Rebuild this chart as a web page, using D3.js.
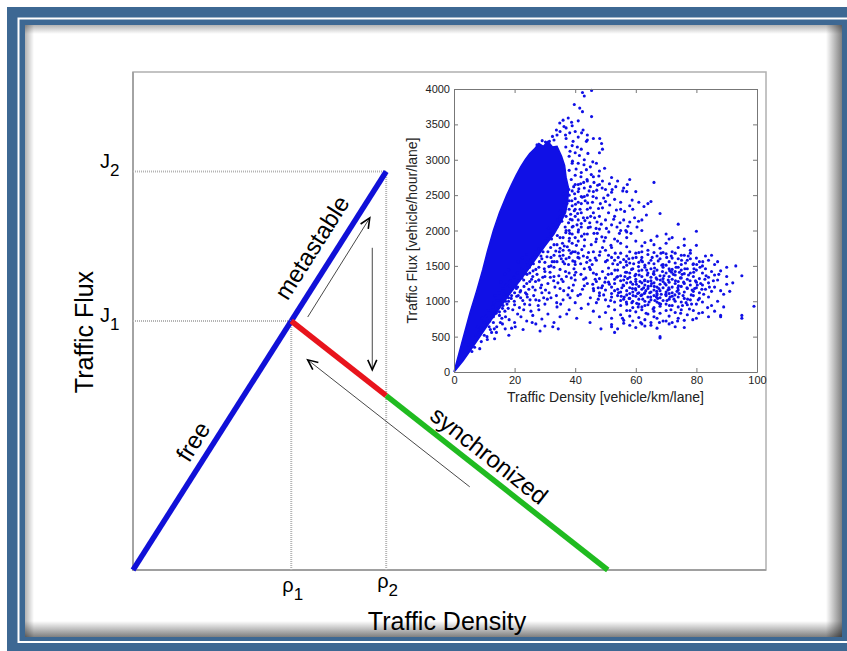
<!DOCTYPE html>
<html>
<head>
<meta charset="utf-8">
<script src="https://cdn.jsdelivr.net/npm/d3@7"></script>
<style>
body{margin:0;background:#fff;}
text{font-family:Arial,"Liberation Sans",Helvetica,sans-serif;}
</style>
</head>
<body>
<script>
const W=847, H=651;

// ---- schematic (abstract units) ----
const rho1=25, rho2=40, rhoJam=75, J1=50, J2=80, Jsync=35;
const freeBranch=[[0,0],[rho1,J1]];
const metaBranch=[[rho1,J1],[rho2,J2]];
const unstableBranch=[[rho1,J1],[rho2,Jsync]];
const syncBranch=[[rho2,Jsync],[rhoJam,0]];
const hysteresisArrows=[
  [[27.6,50.8],[37.4,70.7]],
  [[37.8,64.7],[37.8,40.2]],
  [[53.2,16.7],[27.6,42.2]]
];

// ---- inset: measured flux vs density ----
const xTicks=[0,20,40,60,80,100];
const yTicks=[0,500,1000,1500,2000,2500,3000,3500,4000];

// solid free-flow wedge outline [density, flux]
const coreHull=[[0,0],[2.5,400],[5.3,840],[7.5,1150],[9.5,1450],[11,1700],[13,2000],[15,2250],[17.4,2500],
 [19,2650],[20.5,2780],[22,2900],[23.5,3000],[25,3090],[26.5,3150],[28,3230],[29.5,3190],[31,3260],
 [32.5,3180],[34,3190],[35.5,3050],[36.5,2920],[37,2750],[37.8,2600],[37.5,2400],[36.8,2250],[35,2100],
 [33,1950],[30,1780],[27,1600],[24,1420],[21,1250],[18,1080],[15,900],[12,720],[9,530],[6,340],[3,160]];

const outlierPts=[[42.4,3950],[43,3900],[45.4,3980],[39.7,3780],[41.5,3730],[42.4,3680],[37.7,3590],[38.8,3530],
 [45.4,3610],[41,3550],[48.1,3300],[48.7,3230],[42.6,3420],[42.1,3380],[43.7,3260],[39.3,3260],[36.8,3350],
 [34.9,3520],[33.8,3420],[32.5,3330],[36.3,3470],[38.2,3380],[35,3400],[37,3450],[40,3400],[44,3350],[46,3300],
 [41,3320],[39,3480],[36,3560],[33,3280],[34,3350],[31.5,3260],[30.2,3250],[29.1,3270],[27.4,3210]];

const transitionPts=[[38,2850],[40,2780],[42,2820],[44,2700],[46,2760],[48,2650],[50,2580],[52,2540],[48,2840],
 [45,2620],[41,2650],[39,2560],[43,2480],[47,2460],[50,2410],[53,2440],[55,2300],[51,2250],[48,2200],[45,2320],
 [42,2380],[40,2300],[38,2420],[37,2200],[39,2150],[42,2100],[45,2050],[48,2020],[52,2080],[55,2000],[58,2120],
 [57,1900],[54,1850],[50,1900],[47,1880],[44,1950],[41,1980],[38,2000],[36,1900],[39,1820],[43,1780],[46,1700],
 [49,1760],[51,1650],[47,1580],[44,1620],[41,1680],[38,1720],[35,1750],[33,1650],[36,1560],[40,1520],[43,1460],
 [46,1400],[38,1400],[35,1450],[32,1500],[30,1420],[33,1350],[36,1280],[40,1300],[43,1220],[39,1150],[35,1180],
 [31,1250],[28,1300],[26,1200],[29,1120],[32,1050],[36,1020],[40,980],[42,900],[38,880],[34,920],[30,960],
 [27,1020],[24,1100],[22,1050],[25,950],[28,880],[31,820],[35,780],[33,700],[29,750],[26,800],[23,880],[20,950],
 [18,1000],[21,820],[24,720],[27,680],[30,650],[20,700],[17,780],[15,850],[16,680],[19,620],[13,700],[12,600],
 [14,560],[10,520],[8.5,330],[11,460],[9,430],
 [37,2650],[38,2500],[39,2350],[40,2450],[41,2550],[43,2600],[44,2500],[46,2550],[42,2250],[44,2180],[46,2250],
 [49,2320],[50,2150],[53,2200],[56,2150],[55,2400],[57,2550],[60,2550],[58,2350],[61,2400],[54,2700],[52,2750],
 [49,2700],[47,2950],[45,2900],[43,3000],[41,2950],[40,3100],[39,3200],[37,3300],[42,3150],[44,3280],[48,3100],
 [49,3150],[38,3050],[39,2950],[40,2650],[42,2480],
 [34,1800],[36,1720],[38,1850],[40,1900],[39,2050],[41,2150],[37,2000],[35,1900],[33,1800],[31,1700],[29,1600],
 [30,1550],[27,1450],[25,1400],[23,1300],[21,1200],[24,1250],[26,1350],[28,1480],[32,1620],[34,1560],[37,1600],
 [36,1650],[33,1480],[30,1350],[28,1300],[25,1280],[22,1150],[19,1080],[17,1000],[20,1120],[18,1050],[16,900],
 [14,850],[15,800],[13,780],[42,2050],[43,1950],[41,1850],[40,1700],[38,1620],[39,1950],[44,2300],[41,2400],
 [40,2200],[38,2300],[37,2450],[35,2200],[34,2050],[32,1950],[31,1880],[29,1800],[27,1700],[26,1620],[24,1550],
 [36.1,2520],[37.3,2380],[38.4,2160],[39.3,2060],[40.8,2240],[41.1,2010],[42.1,1920],[43.2,2140],[44.3,2040],
 [45.1,2200],[46.2,1960],[47.2,2120],[48.3,2380],[39.8,2520],[41.8,2660],[43.9,2720],[45.9,2480],[47.4,2640],
 [50.8,2500],[38.2,1960],[36.4,1780],[34.8,1700],[33.1,1560],[31.3,1490],[29.8,1460],[35.4,1600],[37.8,1520],
 [39.2,1700],[40.9,1620],[42.7,1640],[44.9,1580],[46.8,1840],[48.8,1910],[51.1,1980],[53.8,2050],[56.7,2000],
 [58.4,1960],[60.9,2130],[63.5,2220]];

// extra readings around the wedge edge and the transition zone
const fringePts=[[4.8,380],[6.2,430],[7.1,520],[8.3,560],[9.6,610],[7.7,640],[10.4,690],[11.8,720],[9.2,760],
 [12.6,790],[13.9,830],[11.3,870],[14.7,910],[16.2,940],[13.1,980],[17.5,960],[15.6,1010],[18.9,1040],[20.7,1070],
 [16.8,860],[19.4,880],[21.6,910],[23.3,960],[22.1,780],[18.2,740],[15.3,700],[14.1,640],[12.4,560],[10.9,500],
 [16.9,610],[20.2,640],[25.4,860],[27.8,940],[26.3,1080],[24.7,1170],[29.6,1050],[31.4,1120],[33.8,1080],
 [35.2,960],[37.6,1090],[39.4,1230],[41.7,1100],[44.3,960],[46.1,1150],[42.8,1310],[37.2,820],[40.5,760],
 [32.6,640],[28.4,580],[22.8,600],[6.8,350],[5.9,290],[13.4,470],[18.1,520],[25.8,700],[34.4,610],[44.9,700],
 [48.5,610],
 [13.6,1080],[14.9,1120],[16.1,1180],[17.3,1230],[18.6,1290],[19.8,1340],[15.4,1270],[16.8,1390],[18,1440],
 [20.9,1400],[22.3,1460],[21.4,1290],[23.7,1390],[24.9,1480],[26.1,1430],[27.4,1380],[25.6,1310],[23.1,1210],
 [21.8,1130],[24.2,1060],[26.8,1160],[28.9,1230],[30.2,1160],[29.3,1340],[31.7,1410],[32.9,1290],[34.6,1360],
 [33.3,1200],[36.8,1420],[38.7,1330],[35.5,1310],[37.9,1190],[40.2,1410],[41.9,1380],[43.5,1330],[44.7,1480],
 [39.6,1460],[42.4,1170],[45.8,1240],[47.6,1190],[20.4,1210],[19.1,1170],[17.6,1090],[22.7,1010],[25.1,1020],
 [28.1,1010],[30.8,1030],[33.9,980],[36.2,1150],[38.3,1050],[40.9,1080],
 [21.2,1560],[22.6,1610],[23.9,1660],[25.3,1590],[26.7,1660],[28.2,1560],[27.9,1740],[29.4,1700],[30.7,1630],
 [31.9,1760],[32.4,1560],[33.6,1710],[34.9,1640],[35.8,1820],[36.5,1530],[37.4,1770],[38.6,1680],[39.2,1570],
 [40.4,1790],[41.3,1610],[42.2,1730],[43.1,1870],[44.4,1690],[45.3,1800],[46.6,1610],[47.3,1960],[48.2,1700],
 [49.5,1850],[50.6,1580],[51.8,1790],[53.2,1680],[54.6,1960],[52.4,1530],[30.1,1850],[32.2,1880],[34.1,1930],
 [36.9,1970],[38.1,1890],[39.9,1560],[41.8,1530],[43.8,1550],[45.6,1520],[28.7,1640],[26.2,1530],[24.4,1510],
 [31.2,2030],[32.7,2080],[34.2,2150],[35.1,2280],[36.3,2360],[37.8,2110],[38.5,2230],[39.7,2280],[40.6,2080],
 [41.6,2300],[42.7,2180],[43.3,2420],[44.8,2110],[45.7,2400],[46.4,2180],[47.7,2310],[48.6,2090],[49.4,2460],
 [50.3,2030],[51.4,2360],[52.7,2160],[53.6,2290],[54.8,2110],[56.3,2270],[57.4,2060],[58.8,2430],[59.6,2180],
 [60.4,2050],[62.7,2340],[38.9,2420],[40.1,2370],[42.3,2470],[44.1,2390],[46.9,2030],[36.7,2050],[35.6,2130],
 [37.9,2580],[38.7,2720],[39.5,2620],[40.3,2870],[41.2,2590],[41.9,2760],[42.8,2680],[43.7,2860],[44.6,2560],
 [45.3,2790],[46.2,2680],[47.1,2570],[47.8,2770],[48.9,2600],[49.7,2880],[51.3,2660],[52.2,2580],[53.4,2620],
 [55.7,2560],[57.2,2650],[39.1,2980],[41.4,3060],[42.9,2930],[44.2,3090],[45.8,2970],[38.3,3120],[36.9,3180],
 [40.7,3180],
 [22.4,1330],[24.1,1380],[20.6,1180],[18.4,1220],[16.4,1100],[14.2,1010],[12.9,920],[10.7,790],[9.8,700],
 [8.8,620],[11.6,640],[13.3,610],[15.8,760],[17.9,900],[19.9,1000],[21.2,1080],[23.6,1120],[26.9,1280],
 [28.6,1190],[31.8,1340],[34.3,1260],[37.1,1350],[39.8,1370]];

const jamPts=[[52,1760],[55,1820],[58,1700],[60,1850],[62,1780],[64,1720],[66,1800],[68,1750],[70,1820],[72,1700],
 [74,1760],[76,1790],[78,1720],[61,1690],[57,1770],[65,1860],[71,1880],[69,1690],[63,1830],[75,1650],[80,1790],
 [53,1880],[50,1720],
 [48,1650],[50,1560],[52,1620],[54,1520],[55,1680],[56,1590],[57,1640],[58,1540],[59,1610],[60,1680],[61,1550],
 [62,1620],[63,1510],[64,1660],[65,1580],[66,1530],[67,1640],[68,1600],[69,1520],[70,1670],[71,1560],[72,1610],
 [73,1540],[74,1600],[75,1520],[76,1650],[77,1580],[78,1600],[79,1530],[80,1610],[81,1560],[82,1500],[84,1580],
 [86,1520],[83,1640],[53,1580],[57,1510],[62,1700],[66,1690],[70,1510],[73,1680],[78,1680],
 [45,1450],[47,1380],[49,1420],[50,1330],[51,1470],[52,1390],[53,1310],[54,1440],[55,1360],[56,1480],[56,1300],
 [57,1410],[58,1340],[59,1460],[60,1380],[60,1310],[61,1430],[62,1350],[63,1480],[63,1300],[64,1400],[65,1340],
 [65,1460],[66,1380],[67,1310],[67,1440],[68,1360],[69,1480],[69,1320],[70,1400],[71,1350],[71,1460],[72,1310],
 [73,1420],[73,1370],[74,1480],[75,1330],[75,1440],[76,1390],[77,1310],[77,1460],[78,1400],[79,1350],[80,1440],
 [81,1320],[82,1400],[83,1460],[84,1340],[85,1420],[86,1370],[87,1300],[88,1430],[90,1350],[62,1440],[58,1400],
 [54,1350],[48,1320],[66,1420],[72,1450],
 [44,1250],[46,1180],[47,1280],[48,1120],[49,1220],[50,1160],[51,1270],[52,1200],[52,1110],[53,1250],[54,1170],
 [55,1290],[55,1130],[56,1220],[57,1150],[57,1260],[58,1190],[58,1110],[59,1240],[60,1160],[60,1280],[61,1120],
 [61,1210],[62,1170],[62,1260],[63,1120],[63,1230],[64,1180],[64,1280],[65,1130],[65,1220],[66,1160],[66,1260],
 [67,1200],[67,1110],[68,1240],[68,1150],[69,1190],[69,1280],[70,1130],[70,1230],[71,1170],[71,1270],[72,1200],
 [72,1120],[73,1250],[74,1160],[74,1280],[75,1210],[76,1130],[76,1250],[77,1180],[78,1230],[79,1140],[80,1270],
 [80,1190],[81,1120],[82,1230],[83,1170],[84,1260],[85,1140],[86,1200],[88,1150],[90,1240],[53,1150],[59,1130],
 [65,1290],[71,1110],
 [45,1050],[47,980],[48,1080],[50,1020],[51,930],[52,1060],[53,990],[54,1080],[55,940],[56,1030],[57,1090],
 [57,960],[58,1040],[59,910],[59,1000],[60,1070],[61,960],[61,1030],[62,1090],[62,920],[63,1000],[64,1060],
 [64,950],[65,1020],[66,910],[66,1080],[67,990],[68,1050],[68,930],[69,1010],[70,1080],[70,960],[71,1030],
 [72,940],[72,1070],[73,1000],[74,920],[74,1060],[75,990],[76,1040],[77,950],[78,1020],[79,1080],[80,960],
 [81,1040],[82,990],[84,1060],[85,940],[87,1000],[89,920],[63,940],[67,1090],[55,1010],
 [46,860],[48,780],[50,840],[52,760],[53,880],[55,810],[56,730],[57,870],[58,790],[59,720],[60,850],[61,770],
 [62,880],[63,740],[64,820],[65,700],[66,860],[67,760],[68,830],[69,720],[70,870],[71,790],[72,700],[73,840],
 [74,760],[75,880],[76,730],[77,810],[79,870],[80,760],[82,840],[84,780],[86,860],[88,800],[66,780],[70,720],
 [52,640],[53,560],[54,610],[56,690],[58,660],[60,630],[62,680],[63,650],[65,660],[67,620],[68,480],[68,500],
 [71,680],[73,640],[76,630],[52,670],
 [99,930],[95,800],[95,760],[93,1500],[95,1360],[91,1140],[88,780],[90,1480],[92,1260],[87,1560],[85,1650],[89,1100],
 [80,1990],[74,2090],[68,2240],[66,2680],[65,2410],[58,2720],[56,2600],[62,2000],[70,1950],[76,1880],[64,2380],
 [59,2300],[62,2150],[57,1980],[67,1920],[72,1900],
 [51.3,1240],[53.7,1340],[55.4,1190],[56.6,1410],[58.3,1270],[59.7,1360],[61.4,1280],[62.6,1190],[63.8,1370],
 [65.2,1250],[66.7,1330],[67.6,1180],[68.8,1420],[69.6,1250],[70.7,1300],[72.4,1380],[73.6,1140],[74.7,1330],
 [75.8,1270],[77.4,1370],[78.6,1160],[79.7,1290],[81.4,1250],[82.8,1310],[84.3,1200],[85.6,1290],[87.4,1380],
 [47.6,1030],[49.4,1090],[51.7,1010],[54.3,1120],[56.2,1060],[58.7,980],[60.6,1110],[62.3,1030],[64.6,1120],
 [66.3,1010],[68.4,1100],[70.3,1010],[72.6,1030],[74.3,1110],[76.6,980],[78.3,1090],[80.6,1020],[82.4,1100],
 [83.7,910],[61.8,1580],[64.3,1540],[67.4,1570],[70.2,1620],[73.3,1480],[76.4,1540],[79.2,1460],[56.8,1560],
 [59.3,1530],[54.2,1620],[58.1,870],[60.8,920],[63.4,830],[65.7,890],[68.2,960],[71.6,880],[74.8,830],[77.7,890],
 [80.8,830],[55.6,760],[61.6,700],[67.8,700],[73.8,720],[78.8,740],
 [55.8,1230],[57.3,1320],[58.9,1180],[60.2,1240],[61.1,1370],[62.9,1290],[64.1,1210],[65.8,1390],[66.9,1140],
 [68.1,1300],[69.3,1360],[70.9,1190],[71.8,1410],[73.1,1290],[74.1,1220],[75.3,1380],[76.9,1190],[77.9,1290],
 [79.1,1410],[80.3,1230],[55.2,1070],[57.8,1040],[59.9,1180],[61.7,1080],[63.3,1150],[64.9,1060],[66.1,1210],
 [67.2,1040],[69.9,1100],[71.3,1060],[73.9,1190],[75.6,1080],[77.1,1030],[79.4,1180],[81.8,1170],[83.2,1360],
 [56.4,1350],[58.6,1450],[60.9,1490],[63.6,1440],[66.2,1470],[68.6,1510],[71.2,1430],[74.4,1410],[76.2,1460],
 [78.9,1520],[81.2,1480],[49.8,1270],[50.9,1380],[48.7,1190],[46.6,1310],[53.1,1440],[54.9,1550],[57.7,1600],
 [60.1,1620],[62.2,1560],[65.4,1620],[68.3,1680],[71.7,1640],[75.1,1580],[77.3,1640],[80.1,1520],[82.1,1560],
 [59.1,1080],[62.8,1110],[66.8,1060],[70.6,1160],[72.9,1090],[64.4,990],[60.3,970],[56.9,990],[67.7,970],
 [71.1,940],[75.4,940],[78.4,960]];

const svg=d3.select("body").append("svg").attr("width",W).attr("height",H);
const defs=svg.append("defs");

// frame
svg.append("rect").attr("x",7).attr("y",7).attr("width",W-7).attr("height",H-7).attr("fill","#3d6893");
svg.append("rect").attr("x",18.5).attr("y",18.5).attr("width",836).attr("height",623.5)
  .attr("fill","none").attr("stroke","#fff").attr("stroke-width",2);
svg.append("rect").attr("x",25).attr("y",25).attr("width",817).attr("height",612).attr("fill","#fff");

function grad(id,x1,y1,x2,y2,a0,a1){
  const g=defs.append("linearGradient").attr("id",id)
    .attr("x1",x1).attr("y1",y1).attr("x2",x2).attr("y2",y2);
  g.append("stop").attr("offset","0%").attr("stop-color","#000").attr("stop-opacity",a0);
  g.append("stop").attr("offset","100%").attr("stop-color","#000").attr("stop-opacity",a1);
}
grad("shT",0,0,0,1,0.3,0); grad("shL",0,0,1,0,0.3,0);
grad("shB",0,0,0,1,0,0.5); grad("shR",0,0,1,0,0,0.5);
svg.append("rect").attr("x",25).attr("y",25).attr("width",817).attr("height",9).attr("fill","url(#shT)");
svg.append("rect").attr("x",25).attr("y",25).attr("width",9).attr("height",612).attr("fill","url(#shL)");
svg.append("rect").attr("x",25).attr("y",621).attr("width",817).attr("height",16).attr("fill","url(#shB)");
svg.append("rect").attr("x",826).attr("y",25).attr("width",16).attr("height",612).attr("fill","url(#shR)");

// ---- main schematic ----
const x=d3.scaleLinear().domain([0,100]).range([133,766]);
const y=d3.scaleLinear().domain([0,100]).range([570,72]);
const line=d3.line().x(d=>x(d[0])).y(d=>y(d[1]));

svg.append("rect").attr("x",x(0)).attr("y",y(100)).attr("width",x(100)-x(0)).attr("height",y(0)-y(100))
  .attr("fill","none").attr("stroke","#b0b0b0").attr("stroke-width",1.5);
svg.append("path").attr("d",line([[0,100],[0,0],[100,0]])).attr("fill","none")
  .attr("stroke","#a0a0a0").attr("stroke-width",1.8);

// dotted guides
const guides=[[[0,J2],[rho2,J2]],[[0,J1],[rho1,J1]],[[rho1,0],[rho1,J1]],[[rho2,0],[rho2,J2]]];
svg.selectAll(".guide").data(guides).enter().append("path").attr("class","guide")
  .attr("d",line).attr("stroke","#b4b4b4").attr("stroke-width",2).attr("stroke-dasharray","1,1").attr("fill","none");

// arrows
defs.append("marker").attr("id","ah").attr("viewBox","-12 -6 14 12").attr("refX",0).attr("refY",0)
  .attr("markerWidth",14).attr("markerHeight",12).attr("markerUnits","userSpaceOnUse").attr("orient","auto")
  .append("path").attr("d","M-10,-4.5L0,0L-10,4.5").attr("fill","none").attr("stroke","#000").attr("stroke-width",1.6);
svg.selectAll(".arr").data(hysteresisArrows).enter().append("path").attr("class","arr")
  .attr("d",line).attr("stroke","#333").attr("stroke-width",0.9).attr("fill","none").attr("marker-end","url(#ah)");

// branches
const branches=[[freeBranch,"#1010d8"],[metaBranch,"#1010d8"],[unstableBranch,"#e8141c"],[syncBranch,"#20bb20"]];
svg.selectAll(".branch").data(branches).enter().append("path").attr("class","branch")
  .attr("d",d=>line(d[0])).attr("stroke",d=>d[1]).attr("stroke-width",5.5).attr("fill","none");

// branch labels
const angFree=Math.atan2(y(J1)-y(0),x(rho1)-x(0))*180/Math.PI;
const angSync=Math.atan2(y(0)-y(J1),x(rhoJam)-x(rho1))*180/Math.PI;
svg.append("text").attr("transform",`translate(200,446) rotate(${angFree})`)
  .attr("text-anchor","middle").attr("font-size",24).text("free");
svg.append("text").attr("transform",`translate(319,252) rotate(${angFree})`)
  .attr("text-anchor","middle").attr("font-size",24).text("metastable");
svg.append("text").attr("transform",`translate(484,462) rotate(${angSync})`)
  .attr("text-anchor","middle").attr("font-size",24).text("synchronized");

// J / rho labels
function subLabel(px,py,main,sub){
  const t=svg.append("text").attr("x",px).attr("y",py).attr("font-size",20);
  t.append("tspan").text(main);
  t.append("tspan").attr("dy",8).attr("font-size",17).text(sub);
}
subLabel(100,y(J2)-4,"J","2");
subLabel(100,y(J1)+1,"J","1");
subLabel(x(rho1)-9,592,"\u03C1","1");
subLabel(x(rho2)-9,588,"\u03C1","2");

svg.append("text").attr("x",447).attr("y",630).attr("text-anchor","middle").attr("font-size",25).text("Traffic Density");
svg.append("text").attr("transform","translate(93,332) rotate(-90)").attr("text-anchor","middle")
  .attr("font-size",25).text("Traffic Flux");

// ---- inset scatter ----
const xi=d3.scaleLinear().domain([0,100]).range([454,757]);
const yi=d3.scaleLinear().domain([0,4000]).range([372,89]);
const ins=svg.append("g");
ins.append("rect").attr("x",xi(0)).attr("y",yi(4000)).attr("width",xi(100)-xi(0)).attr("height",yi(0)-yi(4000))
  .attr("fill","#fff");

ins.append("path").datum(coreHull)
  .attr("d",d3.line().x(d=>xi(d[0])).y(d=>yi(d[1])).curve(d3.curveLinearClosed))
  .attr("fill","#1010e6").attr("stroke","#1010e6").attr("stroke-width",1.5);

const allPts=[].concat(outlierPts,transitionPts,fringePts,jamPts);
ins.selectAll("circle").data(allPts).enter().append("circle")
  .attr("cx",d=>xi(d[0])).attr("cy",d=>yi(d[1])).attr("r",1.55).attr("fill","#1010e6");

function styleAxis(g){
  g.selectAll("path,line").attr("stroke","#777");
  g.selectAll("text").attr("font-size",11).attr("fill","#222");
}
const fmt=d3.format("d");
ins.append("g").attr("transform",`translate(0,${yi(0)})`)
  .call(d3.axisBottom(xi).tickValues(xTicks).tickFormat(fmt).tickSize(-4).tickSizeOuter(0).tickPadding(4)).call(styleAxis);
ins.append("g").attr("transform",`translate(0,${yi(4000)})`)
  .call(d3.axisTop(xi).tickValues(xTicks).tickSize(-4).tickSizeOuter(0).tickFormat("")).call(styleAxis);
ins.append("g").attr("transform",`translate(${xi(0)},0)`)
  .call(d3.axisLeft(yi).tickValues(yTicks).tickFormat(fmt).tickSize(-4).tickSizeOuter(0).tickPadding(4)).call(styleAxis);
ins.append("g").attr("transform",`translate(${xi(100)},0)`)
  .call(d3.axisRight(yi).tickValues(yTicks).tickSize(-4).tickSizeOuter(0).tickFormat("")).call(styleAxis);

ins.append("text").attr("x",(xi(0)+xi(100))/2).attr("y",402).attr("text-anchor","middle")
  .attr("font-size",14).attr("fill","#222").text("Traffic Density [vehicle/km/lane]");
ins.append("text").attr("transform",`translate(417,${(yi(0)+yi(4000))/2}) rotate(-90)`).attr("text-anchor","middle")
  .attr("font-size",14).attr("fill","#222").text("Traffic Flux [vehicle/hour/lane]");
</script>
</body>
</html>
